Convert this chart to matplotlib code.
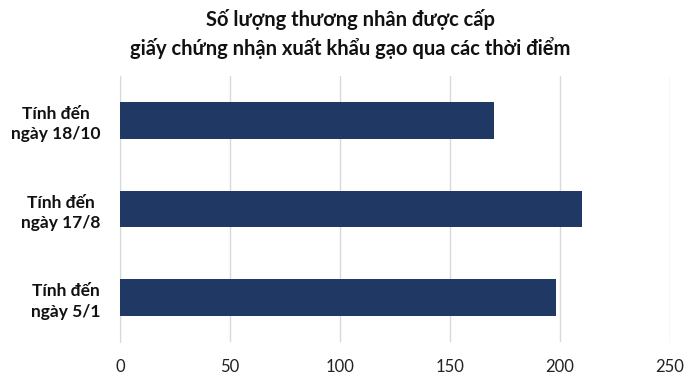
import matplotlib
matplotlib.use('Agg')
import matplotlib.pyplot as plt

# ── Data ──────────────────────────────────────────────────────────────────────
categories = ['Tính đến\nngày 5/1', 'Tính đến\nngày 17/8', 'Tính đến\nngày 18/10']
values = [198, 210, 170]
xticks = [0, 50, 100, 150, 200, 250]

TITLE = 'Số lượng thương nhân được cấp\ngiấy chứng nhận xuất khẩu gạo qua các thời điểm'
BAR_COLOR = '#203864'
GRID_COLOR = '#d9d9d9'

plt.rcParams['font.family'] = ['Lato', 'DejaVu Sans']

fig = plt.figure(figsize=(7.0, 3.89), dpi=100)
ax = fig.add_axes([120 / 700, 1 - 342 / 389, 550 / 700, 266 / 389])

ax.barh(range(len(categories)), values, height=0.41, color=BAR_COLOR, zorder=3)

ax.set_xlim(0, 250)
ax.set_ylim(-0.5, len(categories) - 0.5)
ax.set_xticks(xticks)
ax.set_xticklabels([str(t) for t in xticks], fontsize=12, color='#222222')
ax.set_yticks(range(len(categories)))
ax.set_yticklabels(categories, fontsize=12.5, fontweight='bold', color='#111111',
                   multialignment='center', linespacing=1.35)

ax.grid(axis='x', color=GRID_COLOR, linewidth=1, zorder=0)
ax.tick_params(axis='both', length=0)
ax.tick_params(axis='x', pad=12)
ax.tick_params(axis='y', pad=14)
for s in ('top', 'right', 'bottom'):
    ax.spines[s].set_visible(False)
ax.spines['left'].set_color(GRID_COLOR)

fig.text(0.5, 1 - 34 / 389, TITLE, ha='center', va='center', fontsize=14.5,
         fontweight='bold', color='#111111', linespacing=1.4)

fig.savefig('out.png', dpi=100, facecolor='white')
